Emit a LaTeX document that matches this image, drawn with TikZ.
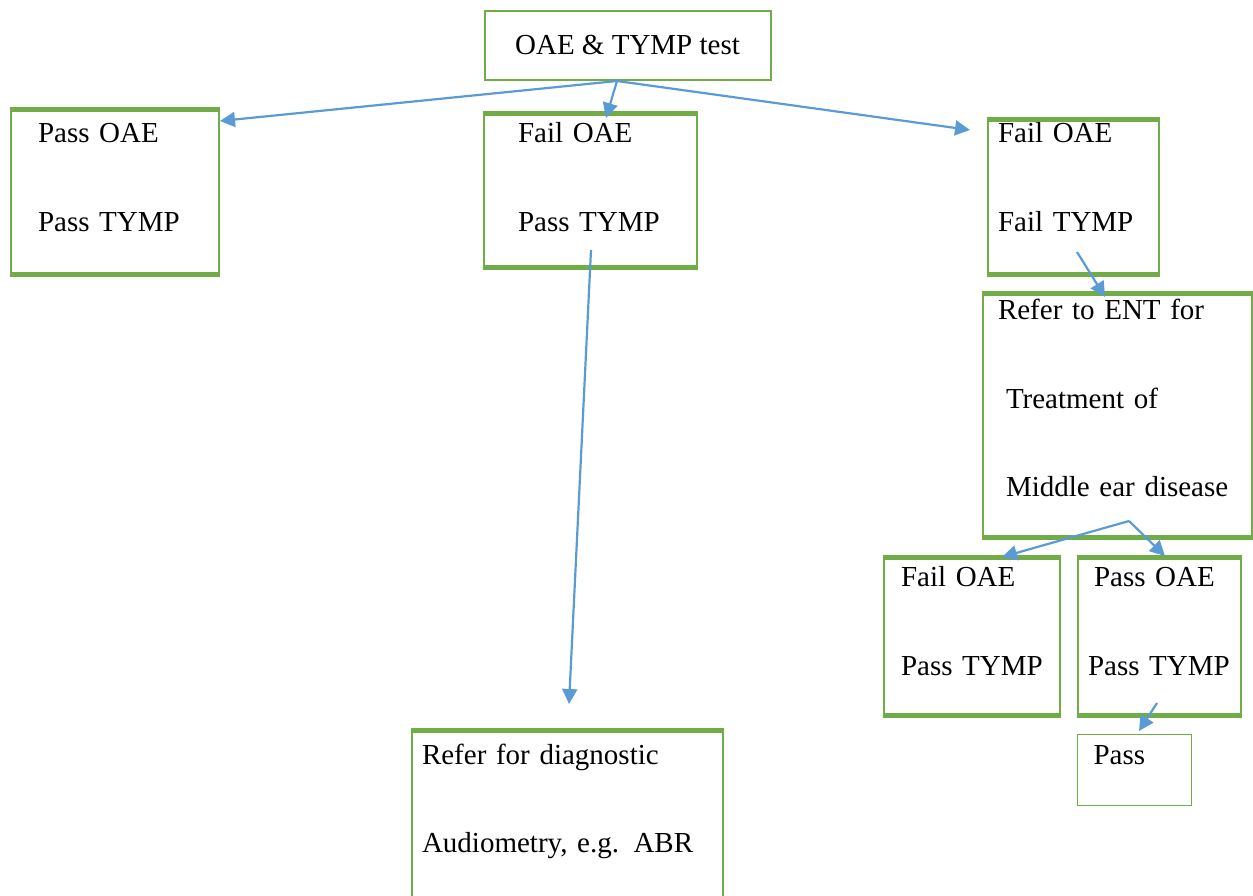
\documentclass[tikz,border=0pt]{standalone}
\usepackage{fontspec}
\setmainfont{Liberation Serif}
\usepackage{tikz}
\usetikzlibrary{arrows.meta}

\definecolor{boxgreen}{HTML}{70AD47}
\definecolor{linkblue}{HTML}{5B9BD5}

\tikzset{
	flowbox/.style={draw=boxgreen, line width=2pt, align=left, anchor=north west, inner ysep=0pt, font=\fontsize{29}{88.5}\selectfont},
	rim/.style={boxgreen, line width=5pt},
	link/.style={draw=linkblue, line width=2.2pt, -{Triangle[length=15pt,width=15pt]}},
}

\begin{document}
\begin{tikzpicture}[x=1pt,y=-1pt]
	\useasboundingbox (0,0) rectangle (1253,896);
	\clip (0,0) rectangle (1253,896);
	% screening result tree
	\node[flowbox, anchor=center, align=center, minimum width=286pt, minimum height=69pt, inner sep=0pt] (test) at (627.5,45.5) {OAE \& TYMP test};
	\node[flowbox, text width=154pt, inner xsep=27pt, text height=31.6pt, text depth=130.4pt] (passpass) at (10,110) {Pass OAE\\Pass TYMP};
	\node[flowbox, text width=145pt, inner xsep=34pt, text height=27.6pt, text depth=123.4pt] (failpass) at (483,114) {Fail OAE\\Pass TYMP};
	\node[flowbox, text width=151pt, inner xsep=10pt, text height=21.6pt, text depth=130.4pt] (failfail) at (987,120) {Fail OAE\\Fail TYMP};
	\node[flowbox, text width=239pt, inner xsep=15pt, text height=25.6pt, text depth=216.4pt] (ent) at (982,293) {Refer to ENT for\\\hspace*{8pt}Treatment of\\\hspace*{8pt}Middle ear disease};
	\node[flowbox, text width=142pt, inner xsep=17pt, text height=28.6pt, text depth=127.4pt] (failpass2) at (883,557) {Fail OAE\\Pass TYMP};
	\node[flowbox, text width=143pt, inner xsep=10pt, text height=28.6pt, text depth=127.4pt] (passpass2) at (1077,557) {\hspace*{6pt}Pass OAE\\Pass TYMP};
	\node[flowbox, line width=1.2pt, text width=82pt, inner xsep=16pt, text height=29.6pt, text depth=41.4pt] (pass) at (1077,734) {Pass};
	\node[flowbox, text width=291pt, inner xsep=10pt, text height=33pt, text depth=170pt] (diagnostic) at (411,730) {Refer for diagnostic\\Audiometry, e.g. ABR};

	\foreach \b in {passpass,failpass,failfail,ent,failpass2,passpass2,diagnostic}{
		\draw[rim] (\b.north west) -- (\b.north east);
		\draw[rim] (\b.south west) -- (\b.south east);
	}

	\coordinate (fork) at (617,81);
	\coordinate (inA) at (220,121);
	\coordinate (inB) at (606,118);
	\coordinate (inC) at (970,130);
	\coordinate (outB) at (591,250);
	\coordinate (inH) at (569,704);
	\coordinate (outC) at (1077,252);
	\coordinate (inD) at (1105,297);
	\coordinate (forkD) at (1129,521);
	\coordinate (inE) at (1002,557);
	\coordinate (inF) at (1165,556);
	\coordinate (outF) at (1157,703);
	\coordinate (inG) at (1139,731);

	\draw[link] (fork) -- (inA);
	\draw[link] (fork) -- (inB);
	\draw[link] (fork) -- (inC);
	\draw[link] (outB) -- (inH);
	\draw[link] (outC) -- (inD);
	\draw[link] (forkD) -- (inE);
	\draw[link] (forkD) -- (inF);
	\draw[link] (outF) -- (inG);
\end{tikzpicture}
\end{document}
